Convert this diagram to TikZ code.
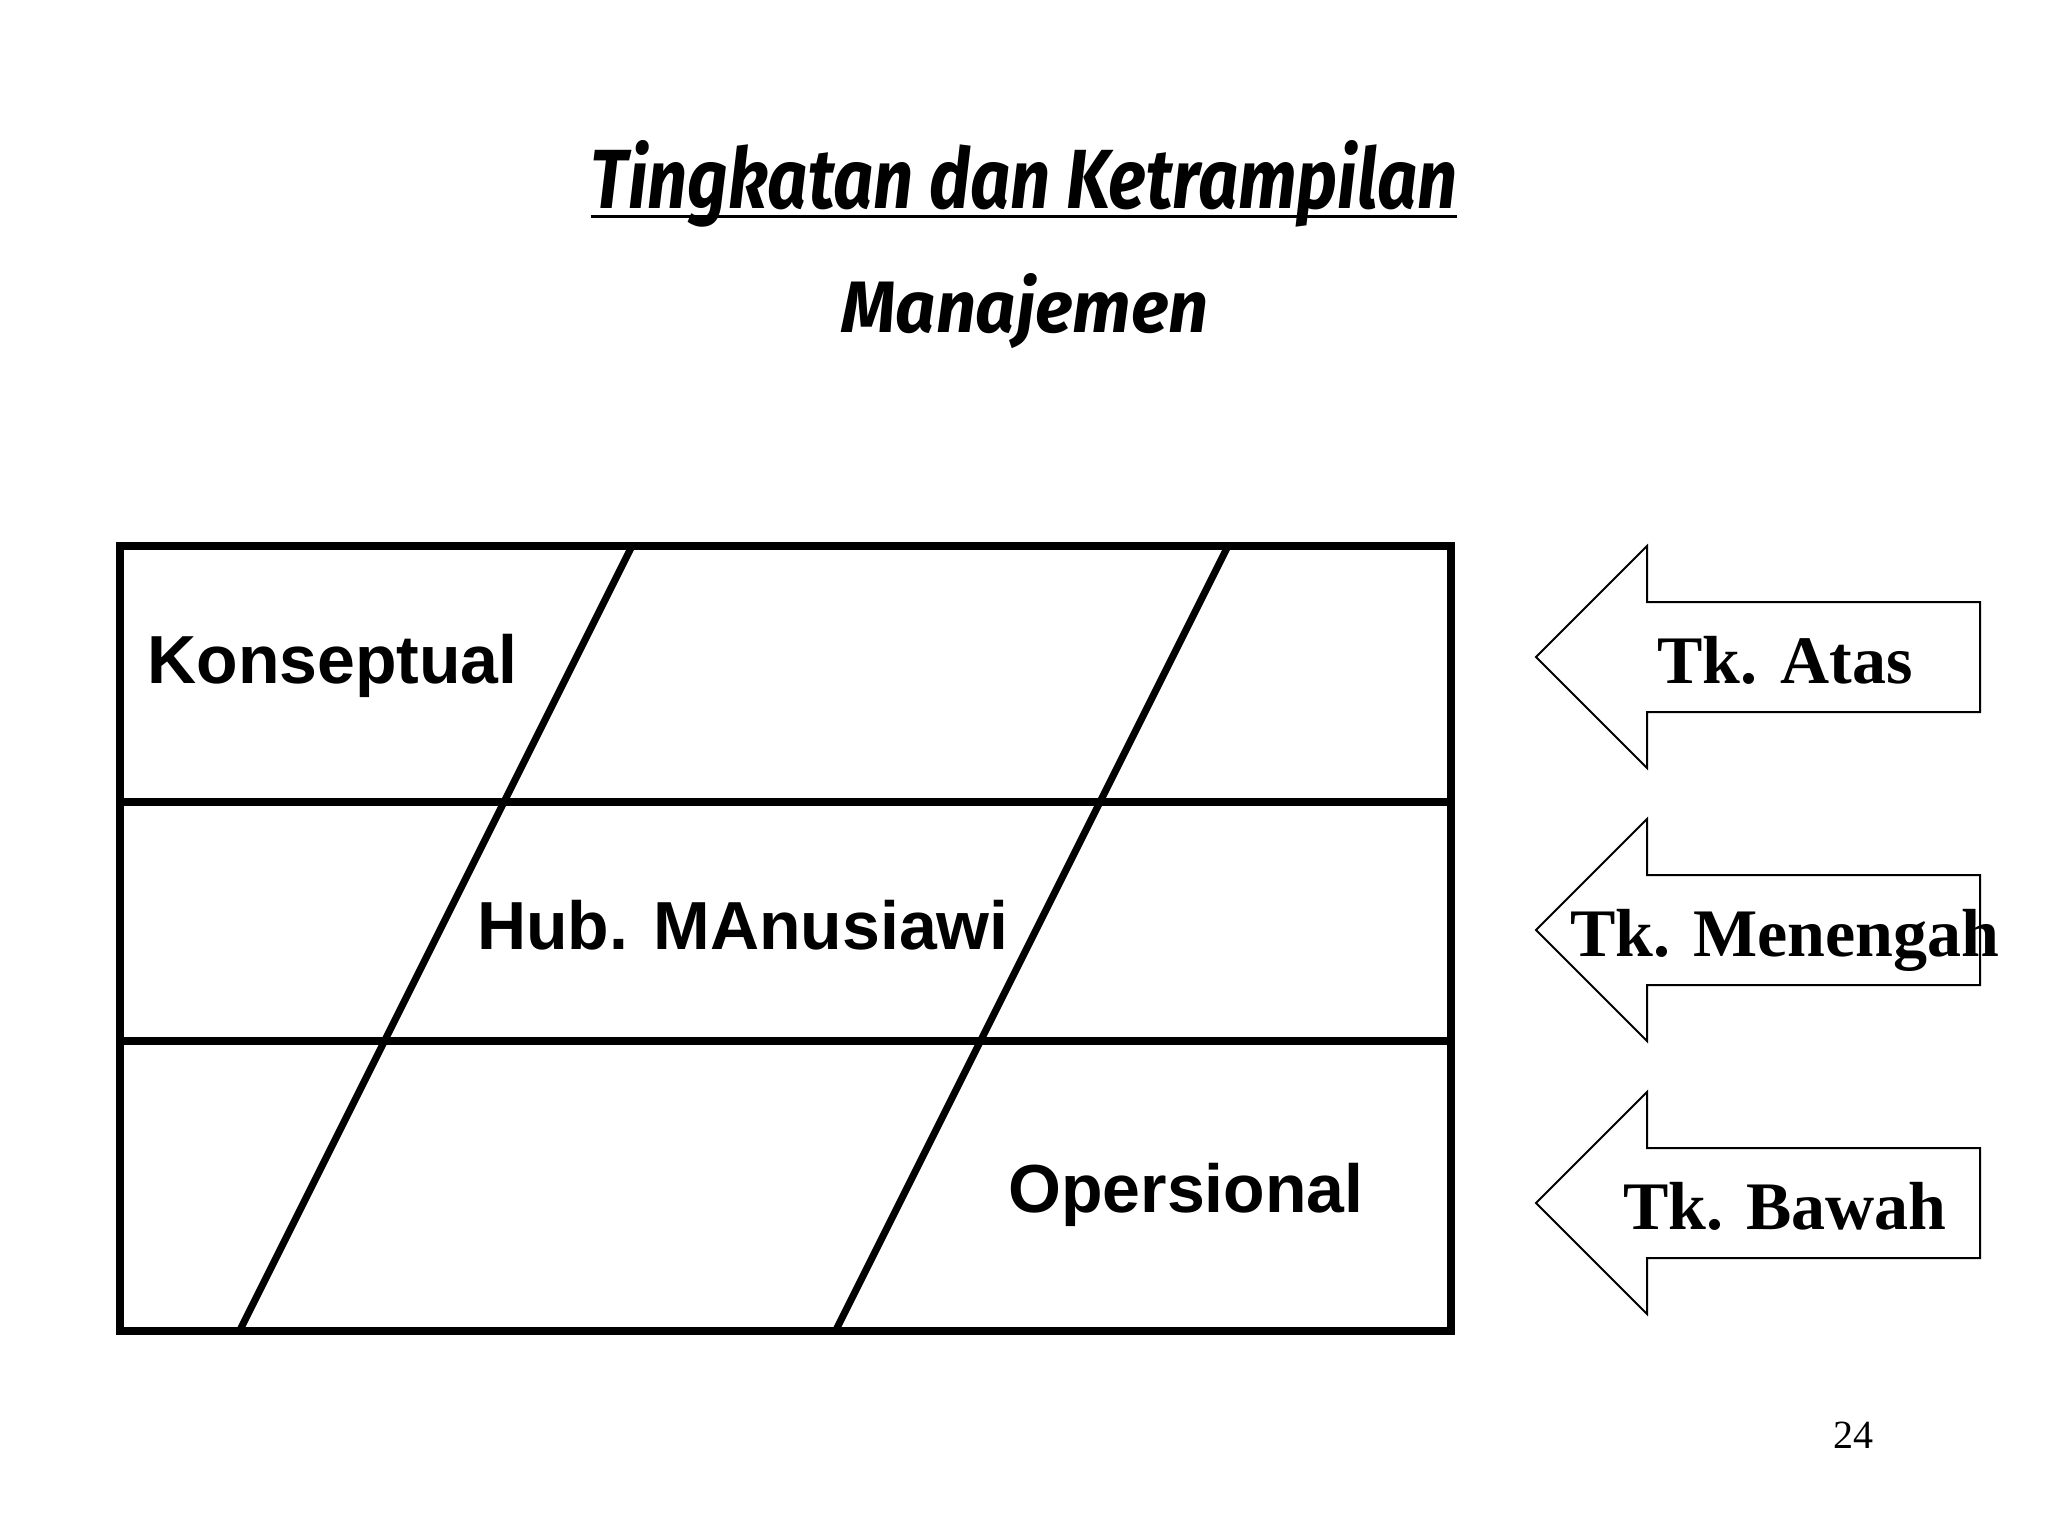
\documentclass[tikz,border=0pt]{standalone}
\usepackage{fontspec}
\setmainfont{Liberation Serif}
\setsansfont{Liberation Sans}
\newfontfamily\titlefont{Fira Sans}
\usepackage{graphicx}
\begin{document}
\begin{tikzpicture}[x=0.5pt,y=-0.5pt,
  frame/.style={line width=4pt},
  diag/.style={line width=3.5pt},
  lvl/.style={draw=black,line width=1pt,fill=white,line join=miter},
  skill/.style={font=\sffamily\bfseries\fontsize{34}{40}\selectfont, inner sep=0, anchor=base},
  lvltext/.style={font=\rmfamily\bfseries\fontsize{34}{40}\selectfont, inner sep=0, anchor=base},
  ttl/.style={inner sep=0, anchor=base}]
\useasboundingbox (0,0) rectangle (2048,1536);
% title
\node[ttl] (title1) at (1024,208) {\resizebox{433pt}{34pt}{\titlefont\bfseries\itshape Tingkatan dan Ketrampilan}};
\node[ttl] (title2) at (1025,332) {\resizebox{183.5pt}{29.5pt}{\titlefont\bfseries\itshape Manajemen}};
\draw[line width=1.5pt] ([yshift=-4pt]title1.base west) -- ([yshift=-4pt]title1.base east);
% table
\draw[frame] (119.5,546) rectangle (1451,1331);
\draw[frame] (119.5,802) -- (1451,802);
\draw[frame] (119.5,1041) -- (1451,1041);
\draw[diag] (632,546) -- (239.5,1331);
\draw[diag] (1228,546) -- (835.5,1331);
\node[skill, anchor=base west] (konseptual) at (147,683) {Konseptual};
\node[skill] (hub) at (743,949) {Hub. MAnusiawi};
\node[skill] (opersional) at (1186,1212) {Opersional};
% level arrows
\foreach \yy/\nm/\tx in {657/atas/Tk. Atas, 930/menengah/Tk. Menengah, 1203/bawah/Tk. Bawah} {
  \draw[lvl] (1980,\yy-55) -- (1647,\yy-55) -- (1647,\yy-111) -- (1536,\yy) -- (1647,\yy+111) -- (1647,\yy+55) -- (1980,\yy+55) -- cycle;
  \node[lvltext] (\nm) at (1785,\yy+26) {\tx};
}
\node[font=\rmfamily\fontsize{20}{24}\selectfont, inner sep=0, anchor=base] (page) at (1853,1448) {24};
\end{tikzpicture}
\end{document}
